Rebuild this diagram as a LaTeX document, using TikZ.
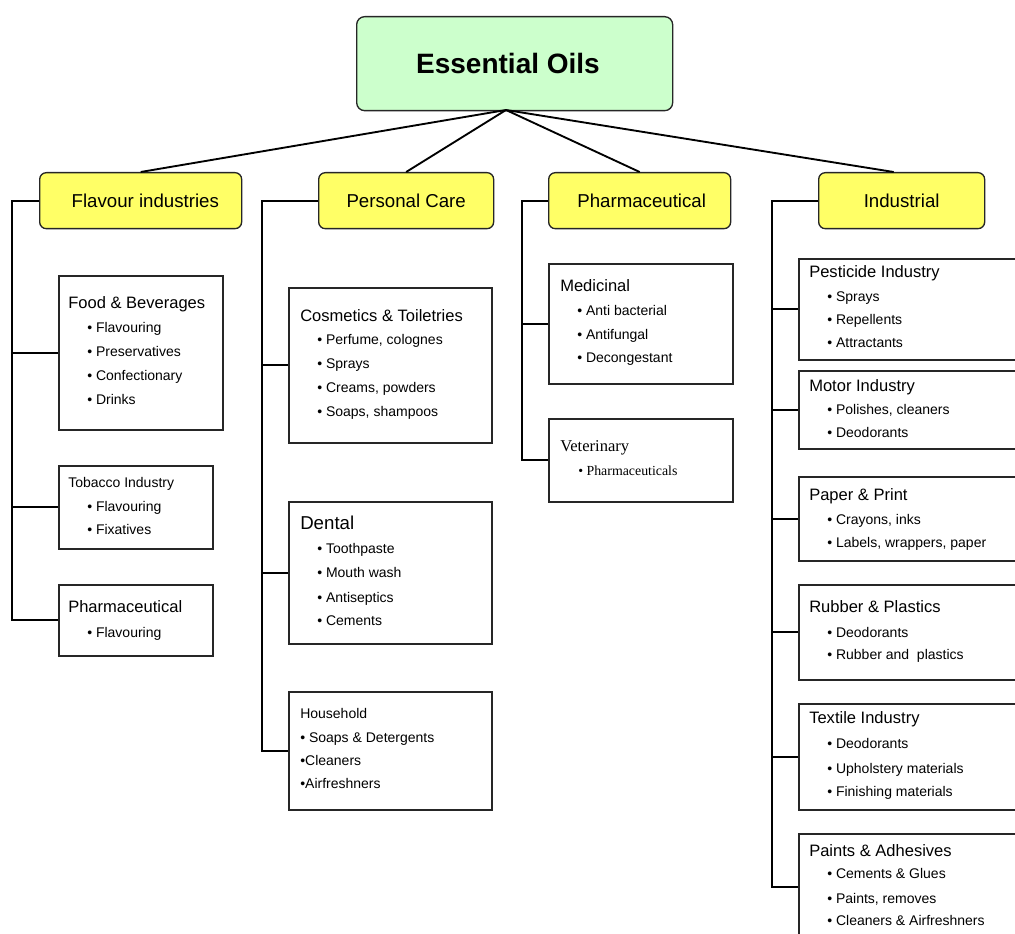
\documentclass[tikz,border=0pt]{standalone}
\usepackage{fontspec}
\setmainfont{Liberation Sans}
\newfontfamily\serifT{Liberation Serif}
\definecolor{catyellow}{RGB}{255,255,102}
\definecolor{rootgreen}{RGB}{204,255,204}
\newcommand\fcat{\fontsize{14}{16}\selectfont}
\newcommand\ftitle{\fontsize{12.4}{14}\selectfont}
\newcommand\fitem{\fontsize{10.5}{12}\selectfont}
\newcommand\boxat[5]{\node[leaf, minimum width={(#4-#2)*0.75pt}, minimum height={(#5-#3)*0.75pt}] (#1) at (#2,#3) {};}
\newcommand\catat[6]{\node[catbox, minimum width={(#4-#2)*0.75pt}, minimum height={(#5-#3)*0.75pt}] (#1) at (#2,#3) {#6};}
\newcommand\txtline[5]{\node[anchor=base west, inner sep=0pt, font=#4] (#1) at (#2,#3) {#5};}
\begin{document}
\begin{tikzpicture}[x=0.75pt, y=-0.75pt,
  leaf/.style={draw=black!85, line width=1.2pt, inner sep=0pt, anchor=north west},
  catbox/.style={draw=black!85, line width=1pt, fill=catyellow, rounded corners=5pt, inner sep=0pt, anchor=north west, font=\fcat},
  rootbox/.style={draw=black!85, line width=1pt, fill=rootgreen, rounded corners=6pt, inner sep=0pt, anchor=north west, font=\fontsize{21}{24}\selectfont\bfseries},
  conn/.style={line width=1.4pt, black, line join=miter}]
\useasboundingbox (0,0) rectangle (1015,934);
\clip (0,0) rectangle (1015,934);

% root
\node[rootbox, minimum width={316*0.75pt}, minimum height={94*0.75pt}] (root) at (356,16) {Essential Oils\hspace*{10pt}};
\coordinate (hub) at (506,110);

% categories
\catat{flav}{39}{172}{241}{228}{\hspace*{7pt}Flavour industries}
\catat{pers}{318}{172}{493}{228}{Personal Care}
\catat{phar}{548}{172}{730}{228}{\hspace*{3pt}Pharmaceutical}
\catat{ind}{818}{172}{984}{228}{Industrial}

\draw[conn] (hub) -- (flav.north);
\draw[conn] (hub) -- (pers.north);
\draw[conn] (hub) -- (phar.north);
\draw[conn] (hub) -- ([xshift=-6pt]ind.north);

% leaf boxes
\boxat{food}{58}{275}{222}{429}
\boxat{tob}{58}{465}{212}{548}
\boxat{fph}{58}{584}{212}{655}
\boxat{cos}{288}{287}{491}{442}
\boxat{den}{288}{501}{491}{643}
\boxat{hou}{288}{691}{491}{809}
\boxat{med}{548}{263}{732}{383}
\boxat{vet}{548}{418}{732}{501}
\boxat{pes}{798}{258}{1030}{359}
\boxat{mot}{798}{370}{1030}{448}
\boxat{pap}{798}{476}{1030}{560}
\boxat{rub}{798}{584}{1030}{679}
\boxat{tex}{798}{703}{1030}{809}
\boxat{pai}{798}{833}{1030}{939}

% tree connectors
\draw[conn] (flav.west) -- ++(-27,0) |- (food.west);
\draw[conn] (flav.west) -- ++(-27,0) |- (tob.west);
\draw[conn] (flav.west) -- ++(-27,0) |- (fph.west);
\draw[conn] (pers.west) -- ++(-56,0) |- (cos.west);
\draw[conn] (pers.west) -- ++(-56,0) |- (den.west);
\draw[conn] (pers.west) -- ++(-56,0) |- (hou.west);
\draw[conn] (phar.west) -- ++(-26,0) |- (med.west);
\draw[conn] (phar.west) -- ++(-26,0) |- (vet.west);
\draw[conn] (ind.west) -- ++(-46,0) |- (pes.west);
\draw[conn] (ind.west) -- ++(-46,0) |- (mot.west);
\draw[conn] (ind.west) -- ++(-46,0) |- (pap.west);
\draw[conn] (ind.west) -- ++(-46,0) |- (rub.west);
\draw[conn] (ind.west) -- ++(-46,0) |- (tex.west);
\draw[conn] (ind.west) -- ++(-46,0) |- (pai.west);

% texts: Flavour
\txtline{food0}{68}{309}{\ftitle}{Food \& Beverages}
\txtline{food1}{87}{333}{\fitem}{• Flavouring}
\txtline{food2}{87}{357}{\fitem}{• Preservatives}
\txtline{food3}{87}{381}{\fitem}{• Confectionary}
\txtline{food4}{87}{405}{\fitem}{• Drinks}
\txtline{tob0}{68}{488}{\fitem}{Tobacco Industry}
\txtline{tob1}{87}{512}{\fitem}{• Flavouring}
\txtline{tob2}{87}{535}{\fitem}{• Fixatives}
\txtline{fph0}{68}{612}{\ftitle}{Pharmaceutical}
\txtline{fph1}{87}{637}{\fitem}{• Flavouring}

% Personal care
\txtline{cos0}{300}{322}{\ftitle}{Cosmetics \& Toiletries}
\txtline{cos1}{317}{345}{\fitem}{• Perfume, colognes}
\txtline{cos2}{317}{369}{\fitem}{• Sprays}
\txtline{cos3}{317}{393}{\fitem}{• Creams, powders}
\txtline{cos4}{317}{417}{\fitem}{• Soaps, shampoos}
\txtline{den0}{300}{530}{\fcat}{Dental}
\txtline{den1}{317}{553}{\fitem}{• Toothpaste}
\txtline{den2}{317}{577}{\fitem}{• Mouth wash}
\txtline{den3}{317}{602}{\fitem}{• Antiseptics}
\txtline{den4}{317}{625}{\fitem}{• Cements}
\txtline{hou0}{300}{718}{\fitem}{Household}
\txtline{hou1}{300}{742}{\fitem}{• Soaps \& Detergents}
\txtline{hou2}{300}{765}{\fitem}{•Cleaners}
\txtline{hou3}{300}{788}{\fitem}{•Airfreshners}

% Pharmaceutical
\txtline{med0}{560}{292}{\ftitle}{Medicinal}
\txtline{med1}{577}{316}{\fitem}{• Anti bacterial}
\txtline{med2}{577}{340}{\fitem}{• Antifungal}
\txtline{med3}{577}{363}{\fitem}{• Decongestant}
\txtline{vet0}{560}{452}{\serifT\ftitle}{Veterinary}
\txtline{vet1}{578}{475}{\serifT\fontsize{10.4}{12}\selectfont}{• Pharmaceuticals}

% Industrial
\txtline{pes0}{809}{278}{\ftitle}{Pesticide Industry}
\txtline{pes1}{827}{302}{\fitem}{• Sprays}
\txtline{pes2}{827}{325}{\fitem}{• Repellents}
\txtline{pes3}{827}{348}{\fitem}{• Attractants}
\txtline{mot0}{809}{392}{\ftitle}{Motor Industry}
\txtline{mot1}{827}{415}{\fitem}{• Polishes, cleaners}
\txtline{mot2}{827}{438}{\fitem}{• Deodorants}
\txtline{pap0}{809}{500}{\ftitle}{Paper \& Print}
\txtline{pap1}{827}{524}{\fitem}{• Crayons, inks}
\txtline{pap2}{827}{547}{\fitem}{• Labels, wrappers, paper}
\txtline{rub0}{809}{612}{\ftitle}{Rubber \& Plastics}
\txtline{rub1}{827}{637}{\fitem}{• Deodorants}
\txtline{rub2}{827}{659}{\fitem}{• Rubber and\ \ plastics}
\txtline{tex0}{809}{723}{\ftitle}{Textile Industry}
\txtline{tex1}{827}{748}{\fitem}{• Deodorants}
\txtline{tex2}{827}{773}{\fitem}{• Upholstery materials}
\txtline{tex3}{827}{796}{\fitem}{• Finishing materials}
\txtline{pai0}{809}{856}{\ftitle}{Paints \& Adhesives}
\txtline{pai1}{827}{878}{\fitem}{• Cements \& Glues}
\txtline{pai2}{827}{903}{\fitem}{• Paints, removes}
\txtline{pai3}{827}{925}{\fitem}{• Cleaners \& Airfreshners}
\end{tikzpicture}
\end{document}
